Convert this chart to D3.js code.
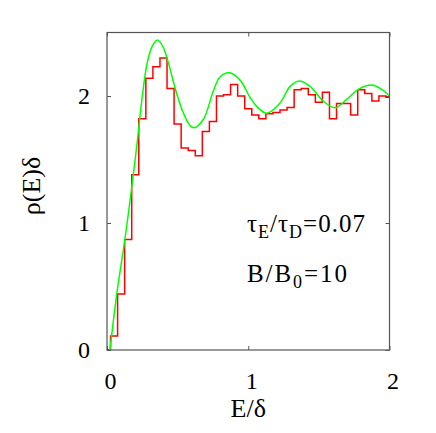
<!DOCTYPE html>
<html>
<head>
<meta charset="utf-8">
<script src="https://cdn.jsdelivr.net/npm/d3@7"></script>
<style>
   body { margin: 0; background: #fff; }
   text { font-family: "Liberation Serif", "Times New Roman", Times, "DejaVu Serif", "Noto Serif", serif; fill: #000; }
   .tick text { font-size: 24px; }
   .tick line { stroke: #555; }
</style>
</head>
<body>
<div id="chart"></div>
<script>
const width = 436;
const height = 433;

const margin = {top: 32.5, right: 46.5, bottom: 83, left: 107};

// histogram, bins centred on E/delta = 0, 0.05, ... 2
const binCenters = [0, 0.05, 0.1, 0.15, 0.2, 0.25, 0.3, 0.35, 0.4, 0.45,
   0.5, 0.55, 0.6, 0.65, 0.7, 0.75, 0.8, 0.85, 0.9, 0.95,
   1.0, 1.05, 1.1, 1.15, 1.2, 1.25, 1.3, 1.35, 1.4, 1.45,
   1.5, 1.55, 1.6, 1.65, 1.7, 1.75, 1.8, 1.85, 1.9, 1.95, 2.0];
const histValues = [0, 0.11, 0.44, 0.87, 1.38, 1.82, 2.14, 2.23, 2.30, 2.06,
   1.78, 1.59, 1.57, 1.53, 1.72, 1.80, 2.00, 2.01, 2.09, 2.00,
   1.90, 1.85, 1.82, 1.86, 1.87, 1.89, 1.91, 2.05, 2.06, 2.01,
   1.95, 2.03, 1.82, 1.94, 1.94, 1.85, 2.05, 2.02, 1.96, 2.00, 1.99];

// smooth theory curve
const curveE = [0.021, 0.069, 0.127, 0.182, 0.216, 0.25, 0.285, 0.32, 0.356, 0.395,
   0.434, 0.493, 0.54, 0.58, 0.616, 0.682, 0.753, 0.80, 0.866, 0.942,
   1.012, 1.06, 1.131, 1.225, 1.296, 1.361, 1.437, 1.531, 1.614, 1.697,
   1.779, 1.874, 1.945, 2.0];
const curveRho = [0, 0.44, 0.874, 1.342, 1.657, 2.0, 2.263, 2.39, 2.44, 2.39,
   2.263, 2.02, 1.868, 1.78, 1.75, 1.815, 2.04, 2.149, 2.183, 2.125,
   1.99, 1.918, 1.864, 1.945, 2.076, 2.118, 2.076, 1.96, 1.907, 1.973,
   2.052, 2.086, 2.052, 2.0];

const xTicks = [0, 1, 2];
const yTicks = [0, 1, 2];

const svg = d3.select("#chart").append("svg")
   .attr("width", width)
   .attr("height", height);

let x = d3.scaleLinear()
   .domain([0, 2])
   .range([margin.left, width - margin.right]);

let y = d3.scaleLinear()
   .domain([0, 2.5])
   .range([height - margin.bottom, margin.top]);

svg.append("clipPath")
   .attr("id", "plotclip")
   .append("rect")
   .attr("x", margin.left).attr("y", margin.top)
   .attr("width", width - margin.left - margin.right)
   .attr("height", height - margin.top - margin.bottom);

// axes with inward ticks
const xAxis = svg.append("g")
   .attr("transform", `translate(0,${height - margin.bottom})`)
   .call(d3.axisBottom(x).tickValues(xTicks).tickFormat(d3.format("d"))
      .tickSizeInner(-4).tickSizeOuter(0).tickPadding(22));
xAxis.selectAll(".tick text").attr("dx", 3);

svg.append("g")
   .attr("transform", `translate(${margin.left},0)`)
   .call(d3.axisLeft(y).tickValues(yTicks).tickFormat(d3.format("d"))
      .tickSizeInner(-4).tickSizeOuter(0).tickPadding(17));

svg.append("g")
   .attr("transform", `translate(0,${margin.top})`)
   .call(d3.axisTop(x).tickValues(xTicks).tickFormat("")
      .tickSizeInner(-4).tickSizeOuter(0));

svg.append("g")
   .attr("transform", `translate(${width - margin.right},0)`)
   .call(d3.axisRight(y).tickValues(yTicks).tickFormat("")
      .tickSizeInner(-4).tickSizeOuter(0));

svg.selectAll(".domain").remove();
svg.selectAll("g").attr("font-family", null);

// frame
svg.append("rect")
   .attr("x", margin.left)
   .attr("y", margin.top)
   .attr("width", width - margin.left - margin.right)
   .attr("height", height - margin.top - margin.bottom)
   .style("fill", "none")
   .style("stroke", "#555")
   .style("stroke-width", 1.2);

// histogram as steps
const histLine = d3.line()
   .x((d, i) => x(binCenters[i]))
   .y(d => y(d))
   .curve(d3.curveStep);

svg.append("path")
   .datum(histValues)
   .attr("clip-path", "url(#plotclip)")
   .attr("d", histLine)
   .style("fill", "none")
   .style("stroke", "#ff0000")
   .style("stroke-width", 1.5);

const rhoLine = d3.line()
   .x((d, i) => x(curveE[i]))
   .y(d => y(d))
   .curve(d3.curveCatmullRom);

svg.append("path")
   .datum(curveRho)
   .attr("clip-path", "url(#plotclip)")
   .attr("d", rhoLine)
   .style("fill", "none")
   .style("stroke", "#00ff00")
   .style("stroke-width", 1.5);

// axis titles
svg.append("text")
   .attr("x", x(1))
   .attr("y", 417)
   .style("text-anchor", "middle")
   .style("font-size", "26px")
   .text("E/δ");

svg.append("text")
   .attr("transform", "translate(40,186) rotate(-90)")
   .style("text-anchor", "middle")
   .style("font-size", "26px")
   .text("ρ(E)δ");

// annotations
const ann1 = svg.append("text")
   .attr("x", 247)
   .attr("y", 232)
   .attr("textLength", 118)
   .attr("lengthAdjust", "spacing")
   .style("font-size", "25px");
ann1.append("tspan").text("τ");
ann1.append("tspan").attr("dy", 6).style("font-size", "18px").text("E");
ann1.append("tspan").attr("dy", -6).text("/τ");
ann1.append("tspan").attr("dy", 6).style("font-size", "18px").text("D");
ann1.append("tspan").attr("dy", -6).text("=0.07");

const ann2 = svg.append("text")
   .attr("x", 247)
   .attr("y", 282)
   .attr("textLength", 100)
   .attr("lengthAdjust", "spacing")
   .style("font-size", "25px");
ann2.append("tspan").text("B/B");
ann2.append("tspan").attr("dy", 6).style("font-size", "18px").text("0");
ann2.append("tspan").attr("dy", -6).text("=10");
</script>
</body>
</html>
